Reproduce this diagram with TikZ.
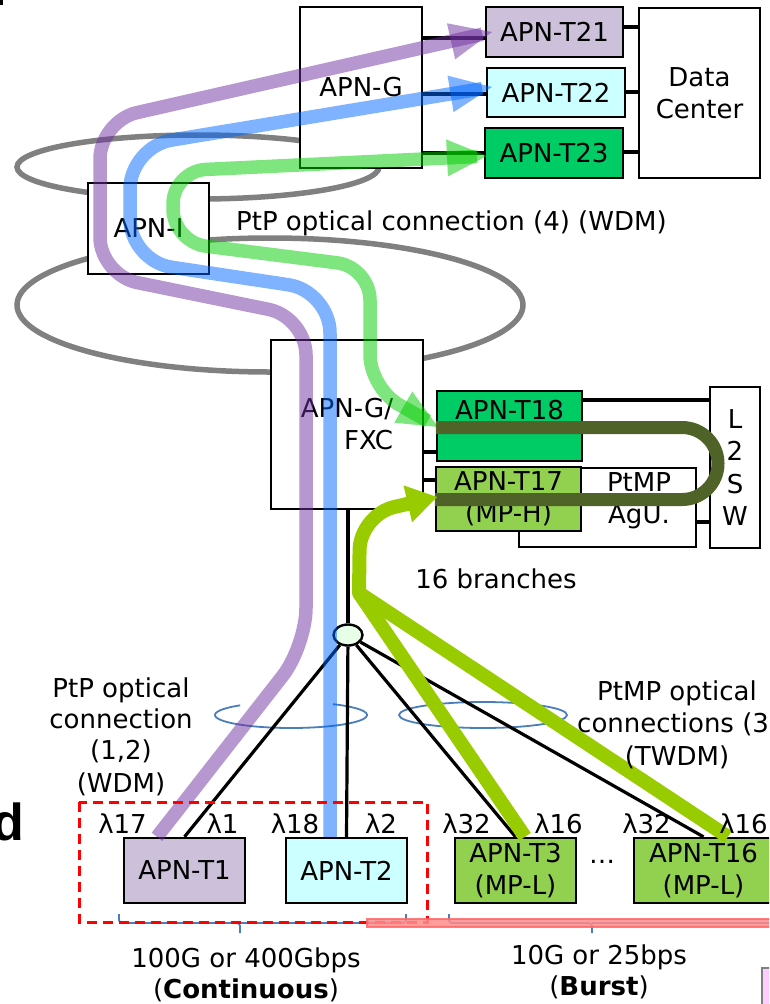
\documentclass[tikz,border=0pt]{standalone}
\usepackage{fontspec}
\setmainfont{DejaVu Sans}
\newfontfamily\bigdfont{Liberation Sans}
\usetikzlibrary{calc,shapes.geometric}
\definecolor{lav}{HTML}{CCC0DA}
\definecolor{cy}{HTML}{CCFFFF}
\definecolor{gr}{HTML}{00CC66}
\definecolor{lg}{HTML}{92D050}
\definecolor{gry}{HTML}{808080}
\definecolor{pur}{HTML}{7030A0}
\definecolor{blu}{HTML}{0066FF}
\definecolor{grn}{HTML}{00CC00}
\definecolor{limec}{HTML}{99CC00}
\definecolor{olivec}{HTML}{4F6228}
\definecolor{thinblue}{HTML}{4A7EBB}
\definecolor{splc}{HTML}{E6FFE6}
\definecolor{pinkbox}{HTML}{FFCCFF}
\begin{document}
\begin{tikzpicture}[x=1pt,y=-1pt,
  font=\fontsize{26}{32}\selectfont,
  every node/.style={inner sep=0pt},
  box/.style={draw, line width=2.4pt, fill=white, align=center},
  conn/.style={line width=3.2pt},
  ring/.style={draw=gry, line width=5.5pt},
  thinring/.style={draw=thinblue, line width=1.8pt},
  fat/.style={line width=13.5pt, opacity=0.5},
  tipfill/.style={opacity=0.5},
  limepath/.style={draw=limec, line width=14pt}]
\useasboundingbox (0,0) rectangle (769,1004);
\clip (0,0) rectangle (769,1004);
\fill (0,0) rectangle (3,5);
% grey rings
\draw[ring] (198,167) ellipse [x radius=181, y radius=32];
\draw[ring] (270,305) ellipse [x radius=253, y radius=67];
% thin rings
\draw[thinring] plot[smooth, domain=228:-56.6, samples=60] ({291+76*cos(\x)},{715+13*sin(\x)});
\draw[thinring] (483,715) ellipse [x radius=84, y radius=13];
% boxes
\node[box, minimum width=122, minimum height=161] (g) at (361,87.5) {APN-G};
\node[box, fill=lav, minimum width=137, minimum height=50] (t21) at (554.5,32) {APN-T21};
\node[box, fill=cy, minimum width=138, minimum height=49] (t22) at (556,92.5) {APN-T22};
\node[box, fill=gr, minimum width=138, minimum height=50] (t23) at (554,153) {APN-T23};
\node[box, minimum width=121, minimum height=170] (dc) at (699.5,93) {Data\\Center};
\node[box, minimum width=121, minimum height=91] (api) at (148.5,228.5) {APN-I};
\node[box, align=right, minimum width=152, minimum height=169] (fxc) at (347,424.5) {APN-G/\\FXC};
\node[box, fill=gr, minimum width=145, minimum height=70] (t18) at (509.5,426) {};
\node (t18l) at (509.5,410) {APN-T18};
\node[box, minimum width=177, minimum height=79] (agu) at (607.5,507.5) {};
\node[align=center] (agul) at (639,500.5) {PtMP\\AgU.};
\node[box, fill=lg, minimum width=145, minimum height=64] (t17) at (508.5,499) {APN-T17\\(MP-H)};
\node[box, font=\fontsize{26}{32.5}\selectfont, minimum width=50, minimum height=161] (sw) at (735,467.5) {L\\2\\S\\W};
\node[box, fill=lav, minimum width=121, minimum height=65] (t1) at (184.5,870.5) {APN-T1};
\node[box, fill=cy, minimum width=121, minimum height=65] (t2) at (346.5,870.5) {APN-T2};
\node[box, fill=lg, minimum width=121, minimum height=65] (t3) at (515.5,870.5) {APN-T3\\(MP-L)};
\node[box, fill=lg, minimum width=139, minimum height=65] (t16) at (703.5,870.5) {APN-T16\\(MP-L)};
\node[draw, ellipse, line width=2.4pt, fill=splc, minimum width=29, minimum height=21] (spl) at (348,635) {};
% connectors
\draw[conn] (g.east |- 0,38) -- (t21.west |- 0,38);
\draw[conn] (g.east |- 0,94) -- (t22.west |- 0,94);
\draw[conn] (g.east |- 0,153) -- (t23.west |- 0,153);
\draw[conn] (t21.east |- 0,27) -- (dc.west |- 0,27);
\draw[conn] (t22.east |- 0,92) -- (dc.west |- 0,92);
\draw[conn] (t23.east |- 0,152) -- (dc.west |- 0,152);
\draw[conn] (t18.east |- 0,400) -- (sw.west |- 0,400);
\draw[conn] (agu.east |- 0,522) -- (sw.west |- 0,522);
\draw[conn] (fxc.east |- 0,452) -- (t18.west |- 0,452);
\draw[conn] (fxc.east |- 0,480) -- (t17.west |- 0,480);
\draw[conn] (fxc.south -| spl) -- (spl.north);
\draw[conn] (spl) -- (t1.north);
\draw[conn] (spl) -- (t2.north);
\draw[conn] (spl) -- (t3.north);
\draw[conn] (spl) -- (t16.north);
% braces
\draw[thinring, rounded corners=3pt] (119,914) |- (240,923) -- (240,933);
\draw[thinring, rounded corners=3pt] (240,923) -| (406,914);
\draw[thinring, rounded corners=3pt] (449,914) |- (592,923) -- (592,933);
\draw[thinring] (592,923) -- (790,923);
% arrow tip geometry
\coordinate (a21) at (492,32);
\coordinate (p21) at (100,121);
\coordinate (b21) at ($(a21)!42pt!(p21)$);
\coordinate (a22) at (492,87);
\coordinate (p22) at (130,147);
\coordinate (b22) at ($(a22)!42pt!(p22)$);
\coordinate (a23) at (487,156);
\coordinate (p23) at (173,171);
\coordinate (b23) at ($(a23)!40pt!(p23)$);
\coordinate (a18) at (438,427);
\coordinate (p18) at (370,388);
\coordinate (b18) at ($(a18)!40pt!(p18)$);
\coordinate (a17) at (437,497);
\coordinate (p17) at (360,515);
\coordinate (b17) at ($(a17)!30pt!(p17)$);
% thick optical paths (translucent, line runs on inside the head)
\draw[pur, fat, rounded corners=38pt] (t1.north -| 157,0) -- (306,646) -- (306,317) -- (100,275) -- (p21) -- ($(a21)!10pt!(p21)$);
\fill[pur, tipfill] (a21) -- ($(b21)!18.5pt!90:(a21)$) -- ($(b21)!18.5pt!-90:(a21)$) -- cycle;
\draw[blu, fat, rounded corners=42pt] (t2.north -| 330,0) -- (330,291) -- (130,261) -- (p22) -- ($(a22)!10pt!(p22)$);
\fill[blu, tipfill] (a22) -- ($(b22)!18.5pt!90:(a22)$) -- ($(b22)!18.5pt!-90:(a22)$) -- cycle;
\draw[grn, fat, rounded corners=33pt] ($(a23)!10pt!(p23)$) -- (p23) -- (173,242) -- (370,267) -- (p18) -- ($(a18)!12pt!(p18)$);
\fill[grn, tipfill] (a23) -- ($(b23)!18.5pt!90:(a23)$) -- ($(b23)!18.5pt!-90:(a23)$) -- cycle;
\fill[grn, tipfill] (a18) -- ($(b18)!18pt!90:(a18)$) -- ($(b18)!18pt!-90:(a18)$) -- cycle;
\draw[olivec, line width=13pt, rounded corners=36pt] (t18.west |- 0,427.5) -- (718,427.5) -- (718,499.5) -- (t17.west |- 0,499.5);
\coordinate (c0) at (359,593);
\draw[limepath] (t16.north -| 728,0) -- (c0);
\draw[limepath] (t3.north -| 525,0) -- (c0);
\fill[limec] (c0) circle [radius=7];
\draw[limepath, rounded corners=35pt] (c0) -- (p17) -- ($(a17)!22pt!(p17)$);
\fill[limec] (a17) -- ($(b17)!19pt!90:(a17)$) -- ($(b17)!19pt!-90:(a17)$) -- cycle;
% red frame and pink bar
\draw[red, line width=3pt, dash pattern=on 10pt off 6pt] (79,802) rectangle (427,922);
\filldraw[fill=red!45!white, draw=red!60!white, line width=1.5pt, opacity=0.85] (367,919) rectangle (790,927);
\filldraw[fill=pinkbox, draw=gry, line width=1.5pt] (762,968) rectangle (800,1030);
% texts
\node[anchor=base west] (ptp4) at (236,230) {PtP optical connection (4) (WDM)};
\node[anchor=base] (b16) at (496,588) {16 branches};
\node[anchor=base] (ptpa) at (121,697) {PtP optical};
\node[anchor=base] (ptpb) at (121,728) {connection};
\node[anchor=base] (ptpc) at (121,759) {(1,2)};
\node[anchor=base] (ptpd) at (121,792) {(WDM)};
\node[anchor=base] (pmpa) at (677,700) {PtMP optical};
\node[anchor=base west] (pmpb) at (577,732) {connections (3)};
\node[anchor=base] (pmpc) at (677,765) {(TWDM)};
\node[anchor=base] (l17) at (122.5,833) {λ17};
\node[anchor=base] (l1) at (222.5,833) {λ1};
\node[anchor=base] (l18) at (295,833) {λ18};
\node[anchor=base] (l2) at (381,833) {λ2};
\node[anchor=base] (l32a) at (466.5,833) {λ32};
\node[anchor=base] (l16a) at (558.5,833) {λ16};
\node[anchor=base] (l32b) at (646.5,833) {λ32};
\node[anchor=base] (l16b) at (743.5,833) {λ16};
\node[anchor=base] (dots) at (602,863) {…};
\node[anchor=base] (rate1) at (246,967) {100G or 400Gbps};
\node[anchor=base] (mode1) at (246,998) {(\textbf{Continuous})};
\node[anchor=base] (rate2) at (599,964) {10G or 25bps};
\node[anchor=base] (mode2) at (599,995) {(\textbf{Burst})};
\node[anchor=base east, font=\bigdfont\bfseries\fontsize{52}{60}\selectfont] (dd) at (24,840) {d};
\end{tikzpicture}
\end{document}
